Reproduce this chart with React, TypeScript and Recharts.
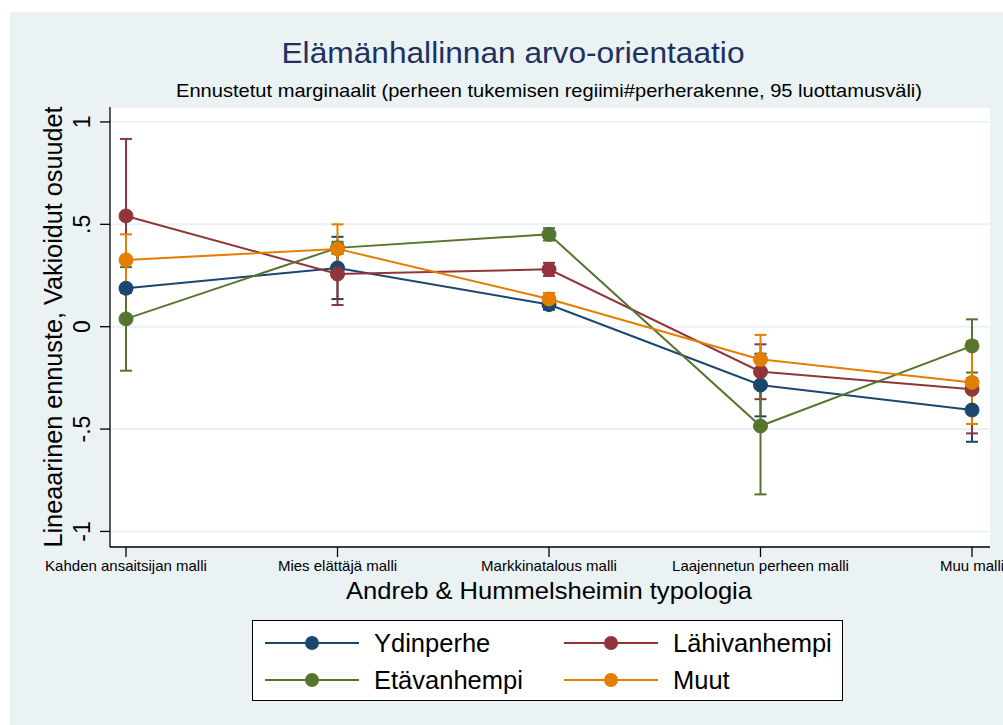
import {
  ComposedChart,
  Line,
  ErrorBar,
  XAxis,
  YAxis,
  CartesianGrid,
} from 'recharts'

const categories = [
  'Kahden ansaitsijan malli',
  'Mies elättäjä malli',
  'Markkinatalous malli',
  'Laajennetun perheen malli',
  'Muu malli',
]

// point estimates and half-widths of the 95% intervals
const ydinperhe = [0.188, 0.287, 0.108, -0.285, -0.407]
const ydinperheCI = [0.14, 0.152, 0.025, 0.153, 0.155]
const lahivanhempi = [0.541, 0.257, 0.28, -0.22, -0.306]
const lahivanhempiCI = [0.376, 0.151, 0.032, 0.134, 0.215]
const etavanhempi = [0.038, 0.385, 0.451, -0.485, -0.094]
const etavanhempiCI = [0.253, 0.03, 0.03, 0.334, 0.13]
const muut = [0.326, 0.38, 0.135, -0.16, -0.272]
const muutCI = [0.125, 0.12, 0.03, 0.12, 0.203]

const yTicks = [-1, -0.5, 0, 0.5, 1]
const yTickLabels = ['-1', '-.5', '0', '.5', '1']

const series = [
  { key: 'ydinperhe', name: 'Ydinperhe', color: '#1a476f', values: ydinperhe, ci: ydinperheCI },
  { key: 'lahivanhempi', name: 'Lähivanhempi', color: '#90353b', values: lahivanhempi, ci: lahivanhempiCI },
  { key: 'etavanhempi', name: 'Etävanhempi', color: '#55752f', values: etavanhempi, ci: etavanhempiCI },
  { key: 'muut', name: 'Muut', color: '#e37e00', values: muut, ci: muutCI },
]

const data = categories.map((cat, i) => {
  const row: Record<string, string | number> = { cat }
  series.forEach((s) => {
    row[s.key] = s.values[i]
    row[s.key + 'CI'] = s.ci[i]
  })
  return row
})

const font = '"Liberation Sans", Arial, sans-serif'
const bg = '#EAF2F3'

const XTick = ({ x, y, payload }: any) => (
  <text x={x} y={y} dy={12} textAnchor="middle" fontSize={15} fontFamily={font} fill="#000">
    {payload.value}
  </text>
)

const YTick = ({ x, y, payload }: any) => {
  const label = yTickLabels[yTicks.indexOf(payload.value)] ?? String(payload.value)
  return (
    <text
      x={x}
      y={y}
      transform={`rotate(-90, ${x}, ${y})`}
      textAnchor="middle"
      fontSize={23}
      fontFamily={font}
      fill="#000"
    >
      {label}
    </text>
  )
}

export default function App() {
  return (
    <div style={{ position: 'absolute', left: 0, top: 0, width: 1003, height: 725, background: '#fff', overflow: 'hidden' }}>
      <div style={{ position: 'absolute', left: 10, top: 12, width: 993, height: 713, background: bg }} />
      <div style={{ position: 'absolute', left: 0, top: 0 }}>
        <ComposedChart
          width={1003}
          height={725}
          data={data}
          margin={{ top: 107, right: 13, bottom: 148, left: 50 }}
        >
          <CartesianGrid vertical={false} stroke={bg} strokeWidth={2} fill="#fff" />
          <XAxis
            dataKey="cat"
            type="category"
            scale="point"
            padding={{ left: 16, right: 18 }}
            height={30}
            interval={0}
            tickSize={10}
            tickMargin={2}
            axisLine={{ stroke: '#000', strokeWidth: 1.3 }}
            tickLine={{ stroke: '#000', strokeWidth: 1.3 }}
            tick={<XTick />}
          />
          <YAxis
            type="number"
            domain={[-1.076, 1.073]}
            ticks={yTicks}
            width={60}
            tickSize={10}
            tickMargin={10}
            axisLine={{ stroke: '#000', strokeWidth: 1.3 }}
            tickLine={{ stroke: '#000', strokeWidth: 1.3 }}
            tick={<YTick />}
          />
          {series.map((s) => (
            <Line
              key={s.key}
              type="linear"
              dataKey={s.key}
              name={s.name}
              stroke={s.color}
              strokeWidth={2}
              dot={{ r: 7, fill: s.color, stroke: s.color, strokeWidth: 1 }}
              activeDot={false}
              isAnimationActive={false}
            >
              <ErrorBar
                dataKey={s.key + 'CI'}
                direction="y"
                width={6}
                stroke={s.color}
                strokeWidth={2}
                isAnimationActive={false}
              />
            </Line>
          ))}
        </ComposedChart>
      </div>
      <svg width={1003} height={725} style={{ position: 'absolute', left: 0, top: 0, pointerEvents: 'none' }}>
        <text x={513} y={63} textAnchor="middle" fontSize={30} fontFamily={font} fill="#1e3160" textLength={463} lengthAdjust="spacingAndGlyphs">
          Elämänhallinnan arvo-orientaatio
        </text>
        <text x={549} y={97} textAnchor="middle" fontSize={19} fontFamily={font} fill="#000" textLength={746} lengthAdjust="spacingAndGlyphs">
          Ennustetut marginaalit (perheen tukemisen regiimi#perherakenne, 95 luottamusväli)
        </text>
        <text x={549} y={599} textAnchor="middle" fontSize={24} fontFamily={font} fill="#000" textLength={406} lengthAdjust="spacingAndGlyphs">
          Andreb &amp; Hummelsheimin typologia
        </text>
        <text
          x={62}
          y={327}
          transform="rotate(-90, 62, 327)"
          textAnchor="middle"
          fontSize={25}
          fontFamily={font}
          fill="#000"
          textLength={441}
          lengthAdjust="spacingAndGlyphs"
        >
          Lineaarinen ennuste, Vakioidut osuudet
        </text>
      </svg>
      <div
        style={{
          position: 'absolute',
          left: 252,
          top: 620,
          width: 589,
          height: 79,
          background: '#fff',
          border: '1px solid #000',
          fontFamily: font,
          fontSize: 25.5,
        }}
      >
        {series.map((s, i) => {
          const col = i % 2
          const row = Math.floor(i / 2)
          return (
            <div
              key={s.key}
              style={{
                position: 'absolute',
                left: col === 0 ? 11 : 310,
                top: row === 0 ? 5 : 42,
                height: 34,
                display: 'flex',
                alignItems: 'center',
              }}
            >
              <svg width={96} height={20}>
                <line x1={1} y1={10} x2={95} y2={10} stroke={s.color} strokeWidth={2} />
                <circle cx={48} cy={10} r={7} fill={s.color} />
              </svg>
              <span style={{ marginLeft: 14, color: '#000', lineHeight: '34px' }}>{s.name}</span>
            </div>
          )
        })}
      </div>
    </div>
  )
}
